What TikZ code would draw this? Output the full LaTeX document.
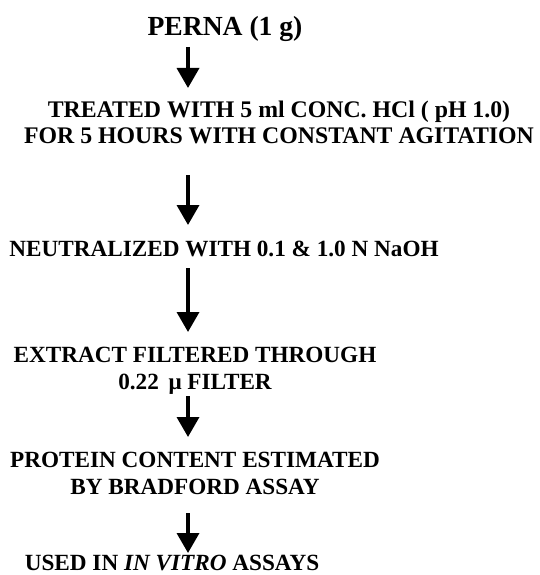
\documentclass[tikz,border=0pt]{standalone}
\usepackage{fontspec}
\setmainfont{Liberation Serif}
\usepackage{tikz}
\usetikzlibrary{arrows.meta,positioning,calc}

\begin{document}
\begin{tikzpicture}
  [x=1pt, y=-1pt, stage/.style = {align=center, inner sep=0pt,
    anchor=base, font=\bfseries\fontsize{23.2}{27}\selectfont},
  post/.style = {-{Triangle[width=22pt,length=20pt]}, line width=3.6pt}]

  \useasboundingbox (0,0) rectangle (539,575);
  \coordinate (spine) at (188,0);

  \node [stage, font=\bfseries\fontsize{27.6}{30}\selectfont] (perna)
  at (225,36) {PERNA (1 g)};
  \node [stage, font=\bfseries\fontsize{23.8}{26}\selectfont] (treated)
  at (279,143) {TREATED WITH 5 ml CONC. HCl ( pH 1.0)\\FOR 5 HOURS WITH
    CONSTANT AGITATION};
  \node [stage] (neutral) at (224,256) {NEUTRALIZED WITH 0.1 \& 1.0 N NaOH};
  \node [stage] (extract) at (195,389) {EXTRACT FILTERED THROUGH\\0.22
    \,μ FILTER};
  \node [stage] (protein) at (195,494) {PROTEIN CONTENT ESTIMATED\\BY
    BRADFORD ASSAY};
  \node [stage] (used) at (172,570) {USED IN \textit{IN VITRO} ASSAYS};

  \draw [post] ([yshift=-11pt]perna.base -| spine) --
  ([yshift=55pt]treated.base -| spine);
  \draw [post] ([yshift=-32pt]treated.base -| spine) --
  ([yshift=31pt]neutral.base -| spine);
  \draw [post] ([yshift=-12pt]neutral.base -| spine) --
  ([yshift=57pt]extract.base -| spine);
  \draw [post] ([yshift=-7pt]extract.base -| spine) --
  ([yshift=57pt]protein.base -| spine);
  \draw [post] ([yshift=-19pt]protein.base -| spine) --
  ([yshift=17pt]used.base -| spine);
\end{tikzpicture}
\end{document}
